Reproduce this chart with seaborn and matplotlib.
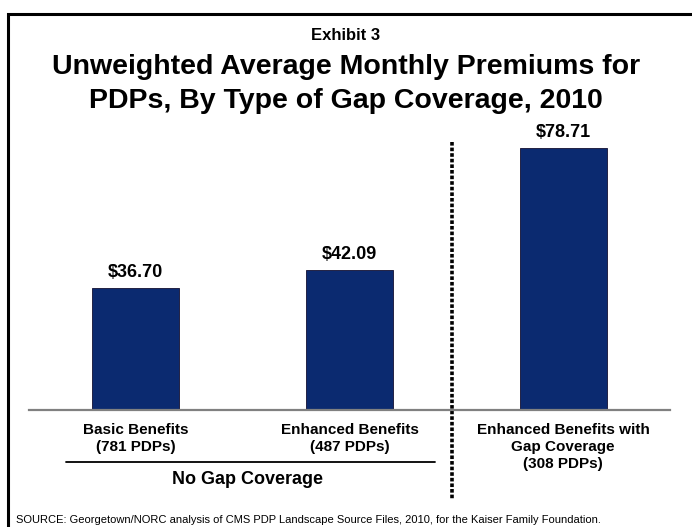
import matplotlib
matplotlib.use("Agg")
import matplotlib.pyplot as plt
import matplotlib.transforms as mtransforms
from matplotlib.patches import Rectangle
import seaborn as sns
import pandas as pd

# Data
categories = ["Basic Benefits\n(781 PDPs)",
              "Enhanced Benefits\n(487 PDPs)",
              "Enhanced Benefits with\nGap Coverage\n(308 PDPs)"]
premiums = [36.70, 42.09, 78.71]
value_labels = ["$36.70", "$42.09", "$78.71"]
group_label = "No Gap Coverage"
exhibit = "Exhibit 3"
title = "Unweighted Average Monthly Premiums for\nPDPs, By Type of Gap Coverage, 2010"
source = ("SOURCE: Georgetown/NORC analysis of CMS PDP Landscape Source Files, 2010, "
          "for the Kaiser Family Foundation.")

sns.set_theme(style="white")
plt.rcParams["font.family"] = ["Liberation Sans", "DejaVu Sans"]
plt.rcParams["text.color"] = "black"
plt.rcParams["xtick.color"] = "black"

W, H = 692, 527
fig = plt.figure(figsize=(W / 100, H / 100), dpi=100)


def fx(px):
    return px / W


def fy(py):
    return 1 - py / H


# outer frame (runs off the right and bottom edges)
fig.patches.append(Rectangle((fx(7.5), fy(560)), fx(720), fy(14) - fy(560),
                             transform=fig.transFigure, fill=False,
                             edgecolor="black", linewidth=2.2))

ax_l, ax_r, ax_b, ax_t = 29, 670, 410, 140
ax = fig.add_axes([fx(ax_l), fy(ax_b), fx(ax_r - ax_l), fy(ax_t) - fy(ax_b)])

df = pd.DataFrame({"category": categories, "premium": premiums})
sns.barplot(data=df, x="category", y="premium", ax=ax, color="#0B2A70",
            width=0.407, edgecolor="#222244", linewidth=0.7, saturation=1)

ax.set_xlim(-0.5, 2.5)
ax.set_ylim(0, 81.1)
ax.set_xlabel("")
ax.set_ylabel("")
ax.set_yticks([])
for s in ["left", "right", "top"]:
    ax.spines[s].set_visible(False)
ax.spines["bottom"].set_color("#808080")
ax.spines["bottom"].set_linewidth(1.6)
ax.tick_params(axis="x", length=0, pad=9, labelcolor="black")
for lbl in ax.get_xticklabels():
    lbl.set_fontweight("bold")
    lbl.set_fontsize(11)
    lbl.set_linespacing(1.3)
    lbl.set_verticalalignment("top")

# value labels on top of each bar
for i, (v, t) in enumerate(zip(premiums, value_labels)):
    ax.annotate(t, xy=(i, v), xytext=(0, 5), textcoords="offset points",
                ha="center", va="bottom", fontsize=13, fontweight="bold")

# dotted separator between the two coverage groups
sep = mtransforms.blended_transform_factory(ax.transData, fig.transFigure)
ax.plot([1.478, 1.478], [fy(142), fy(500)], transform=sep, clip_on=False,
        color="black", linewidth=2.6, linestyle=(0, (1.0, 0.55)),
        solid_capstyle="butt", dash_capstyle="butt")

# group underline and label
fig.add_artist(plt.Line2D([fx(66), fx(435)], [fy(462), fy(462)],
                          color="black", linewidth=1.3))
fig.text(fx(248), fy(479), group_label, ha="center", va="center",
         fontsize=13, fontweight="bold")

# titles
fig.text(0.5, fy(36), exhibit, ha="center", va="center",
         fontsize=12, fontweight="bold")
fig.text(0.5, fy(84), title, ha="center", va="center",
         fontsize=20.5, fontweight="bold", linespacing=1.35)

fig.text(fx(16), fy(520), source, ha="left", va="center", fontsize=8)

fig.savefig("out.png", dpi=100)
